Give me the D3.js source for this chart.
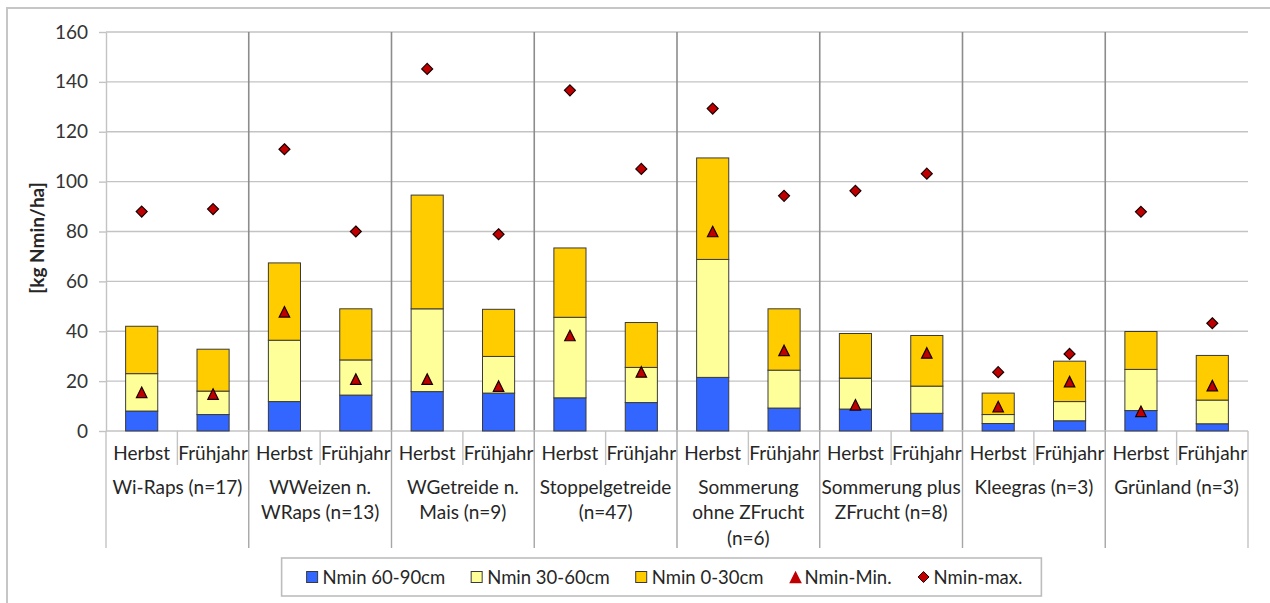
<!DOCTYPE html>
<html><head><meta charset="utf-8">
<script src="https://cdn.jsdelivr.net/npm/d3@7"></script>
<style>
body{margin:0;background:#fff;}
text{font-family:Lato,"Open Sans",sans-serif;}
</style>
</head><body>
<svg id="c" width="1270" height="603"></svg>
<script>
// ---------- data ----------
const groupLabels = [
  ["Wi-Raps (n=17)"],
  ["WWeizen n.", "WRaps (n=13)"],
  ["WGetreide n.", "Mais (n=9)"],
  ["Stoppelgetreide", "(n=47)"],
  ["Sommerung", "ohne ZFrucht", "(n=6)"],
  ["Sommerung plus", "ZFrucht (n=8)"],
  ["Kleegras (n=3)"],
  ["Grünland (n=3)"]
];
const seasons = ["Herbst", "Frühjahr"];
// values ordered: group1 Herbst, group1 Frühjahr, group2 Herbst, ...
const nmin6090 = [8.0, 6.6, 11.8, 14.4, 15.8, 15.2, 13.3, 11.4, 21.5, 9.2, 8.8, 7.1, 3.0, 4.1, 8.2, 2.9];
const nmin3060 = [15.0, 9.4, 24.6, 14.1, 33.2, 14.7, 32.3, 14.1, 47.3, 15.2, 12.4, 10.9, 3.6, 7.7, 16.5, 9.5];
const nmin030  = [19.0, 16.8, 31.0, 20.5, 45.6, 18.9, 27.8, 18.0, 40.7, 24.6, 17.9, 20.3, 8.6, 16.2, 15.2, 17.9];
const nminMin  = [15.5, 14.8, 47.8, 20.8, 20.8, 18.0, 38.3, 23.7, 80.0, 32.3, 10.5, 31.3, 9.8, 19.8, 7.9, 18.2];
const nminMax  = [88.0, 89.0, 113.0, 80.0, 145.2, 78.9, 136.6, 105.1, 129.3, 94.3, 96.3, 103.2, 23.6, 30.9, 87.9, 43.2];
const yTicks = [0, 20, 40, 60, 80, 100, 120, 140, 160];
const legendLabels = ["Nmin 60-90cm", "Nmin 30-60cm", "Nmin 0-30cm", "Nmin-Min.", "Nmin-max."];

// ---------- setup ----------
const svg = d3.select("#c");
const W = 1270, H = 603;
const plot = {left: 106, right: 1248, top: 32, bottom: 431};
const colors = {b: "#3366ff", ly: "#ffff99", g: "#ffcc00", red: "#c00000"};
const FS = 19, LFS = 18.5;
const txt = "#262626";

const groupIds = groupLabels.map((d, i) => i);
const rows = [];
groupIds.forEach(gi => seasons.forEach((s, si) => {
  const k = gi * 2 + si;
  rows.push({g: gi, s, a: nmin6090[k], b: nmin3060[k], c: nmin030[k], min: nminMin[k], max: nminMax[k]});
}));

const x0 = d3.scaleBand().domain(groupIds).range([plot.left, plot.right]).padding(0);
const x1 = d3.scaleBand().domain(seasons).range([0, x0.bandwidth()]).paddingInner(0.55).paddingOuter(0.275);
const y = d3.scaleLinear().domain([0, 160]).range([plot.bottom, plot.top]);
const xc = d => x0(d.g) + x1(d.s) + x1.bandwidth() / 2;

// outer frame
svg.append("rect").attr("x", 7).attr("y", 8).attr("width", W + 20).attr("height", H + 20)
  .attr("fill", "#fff").attr("stroke", "#c6c6c6").attr("stroke-width", 2);

// horizontal grid
svg.append("g").selectAll("line").data(yTicks.filter(t => t > 0)).join("line")
  .attr("x1", plot.left).attr("x2", plot.right)
  .attr("y1", d => y(d)).attr("y2", d => y(d))
  .attr("stroke", "#c3c3c3").attr("stroke-width", 1.4);

// y axis
const yAxis = svg.append("g").attr("transform", `translate(${plot.left},0)`)
  .call(d3.axisLeft(y).tickValues(yTicks).tickSize(7).tickSizeOuter(0).tickPadding(11));
yAxis.select(".domain").attr("stroke", "#c3c3c3").attr("stroke-width", 1.4);
yAxis.selectAll(".tick line").attr("stroke", "#c3c3c3").attr("stroke-width", 1.4);
yAxis.selectAll(".tick text").attr("font-size", FS).attr("fill", "#333").attr("font-family", "Lato");

// y title
svg.append("text").attr("transform", "translate(36,238) rotate(-90)")
  .attr("text-anchor", "middle").attr("dominant-baseline", "central")
  .attr("font-size", FS).attr("font-weight", "bold").attr("fill", txt).text("[kg Nmin/ha]");

// group separators in plot
const inner = groupIds.slice(1);
svg.append("g").selectAll("line").data(inner).join("line")
  .attr("x1", d => x0(d)).attr("x2", d => x0(d))
  .attr("y1", plot.top).attr("y2", plot.bottom)
  .attr("stroke", "#8c8c8c").attr("stroke-width", 1.6);

// category axis line
svg.append("line").attr("x1", plot.left).attr("x2", plot.right)
  .attr("y1", y(0)).attr("y2", y(0)).attr("stroke", "#c3c3c3").attr("stroke-width", 1.4);

// label area separators
const bounds = groupIds.map(d => x0(d)).concat([plot.right]);
svg.append("g").selectAll("line").data(bounds).join("line")
  .attr("x1", d => d).attr("x2", d => d)
  .attr("y1", y(0)).attr("y2", 548)
  .attr("stroke", (d, i) => (i === 0 || i === bounds.length - 1) ? "#c3c3c3" : "#a6a6a6").attr("stroke-width", 1.4);
// season ticks
svg.append("g").selectAll("line").data(groupIds).join("line")
  .attr("x1", d => x0(d) + x0.bandwidth() / 2).attr("x2", d => x0(d) + x0.bandwidth() / 2)
  .attr("y1", y(0)).attr("y2", 465)
  .attr("stroke", "#c3c3c3").attr("stroke-width", 1.4);

// season labels
svg.append("g").selectAll("text").data(rows).join("text")
  .attr("x", xc).attr("y", 452).attr("text-anchor", "middle").attr("dominant-baseline", "central")
  .attr("font-size", FS).attr("fill", txt).text(d => d.s);

// group labels
const gl = svg.append("g").selectAll("text").data(groupIds).join("text")
  .attr("text-anchor", "middle").attr("font-size", FS).attr("fill", txt);
gl.each(function(gi) {
  d3.select(this).selectAll("tspan").data(groupLabels[gi]).join("tspan")
    .attr("x", x0(gi) + x0.bandwidth() / 2)
    .attr("y", (d, i) => 486 + i * 25.5)
    .attr("dominant-baseline", "central")
    .text(d => d);
});

// stacked bars
const keys = ["a", "b", "c"];
const fills = [colors.b, colors.ly, colors.g];
const stack = d3.stack().keys(keys)(rows);
svg.append("g").selectAll("g").data(stack).join("g").attr("fill", (d, i) => fills[i])
  .selectAll("rect").data(d => d).join("rect")
  .attr("x", d => xc(d.data) - x1.bandwidth() / 2)
  .attr("width", x1.bandwidth())
  .attr("y", d => y(d[1]))
  .attr("height", d => y(d[0]) - y(d[1]))
  .attr("stroke", "#3a3a3a").attr("stroke-width", 1);

// markers
const triType = {draw(ctx, size) { const s = Math.sqrt(size); ctx.moveTo(0, -s / 2); ctx.lineTo(s / 2, s / 2); ctx.lineTo(-s / 2, s / 2); ctx.closePath(); }};
const diaType = {draw(ctx, size) { const r = Math.sqrt(size) / 2; ctx.moveTo(0, -r); ctx.lineTo(r, 0); ctx.lineTo(0, r); ctx.lineTo(-r, 0); ctx.closePath(); }};
const tri = d3.symbol(triType, 110);
const dia = d3.symbol(diaType, 120);
svg.append("g").selectAll("path").data(rows).join("path")
  .attr("d", tri).attr("transform", d => `translate(${xc(d)},${y(d.min)})`)
  .attr("fill", colors.red).attr("stroke", "#1a0000").attr("stroke-width", 1.2);
svg.append("g").selectAll("path").data(rows).join("path")
  .attr("d", dia).attr("transform", d => `translate(${xc(d)},${y(d.max)})`)
  .attr("fill", colors.red).attr("stroke", "#1a0000").attr("stroke-width", 1.2);

// legend
const lg = svg.append("g");
const box = lg.append("rect").attr("fill", "#fff").attr("stroke", "#bdbdbd").attr("stroke-width", 1.6);
let cx = 0;
const items = [];
legendLabels.forEach((lab, i) => {
  const it = lg.append("g");
  if (i < 3) {
    it.append("rect").attr("x", 0).attr("y", -5.5).attr("width", 11).attr("height", 11)
      .attr("fill", fills[i]).attr("stroke", "#3a3a3a").attr("stroke-width", 1);
  } else {
    it.append("path").attr("d", i === 3 ? d3.symbol(triType, 160)() : d3.symbol(diaType, 120)())
      .attr("transform", "translate(6,0)").attr("fill", colors.red)
      .attr("stroke", i === 3 ? "none" : "#1a0000").attr("stroke-width", 1);
  }
  const off = i === 3 ? 15 : 16;
  const t = it.append("text").attr("x", off).attr("y", 0).attr("dominant-baseline", "central")
    .attr("font-size", LFS).attr("fill", txt).text(lab);
  const w = off + t.node().getComputedTextLength();
  items.push({it, w});
});
const gap = 26;
const total = d3.sum(items, d => d.w) + gap * (items.length - 1);
const padL = 25, padR = 19;
const boxW = total + padL + padR;
const boxX = 661.5 - boxW / 2;
box.attr("x", boxX).attr("y", 558).attr("width", boxW).attr("height", 38);
cx = boxX + padL;
items.forEach(d => { d.it.attr("transform", `translate(${cx},577)`); cx += d.w + gap; });
</script>
</body></html>
